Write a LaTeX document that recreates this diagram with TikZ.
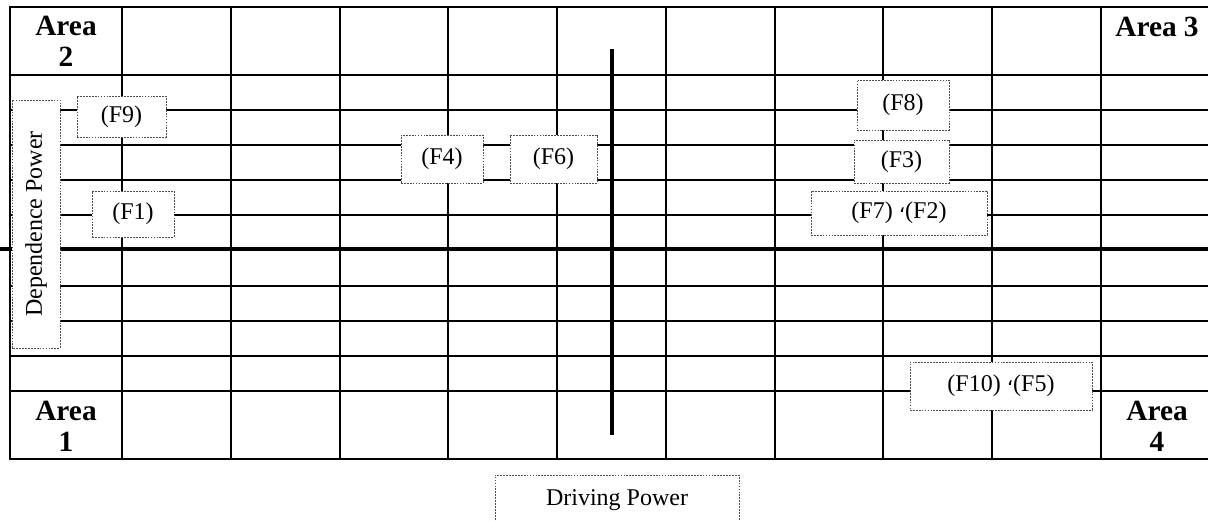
\documentclass[tikz,border=0pt]{standalone}
\usepackage{fontspec}
\setmainfont{Liberation Serif}
\newfontfamily\arabicfont[Script=Arabic]{DejaVu Sans}
\TeXXeTstate=1
\newcommand{\arcomma}{\raisebox{0.28em}{\arabicfont\fontsize{15}{16}\selectfont\beginR ،\endR}}

\begin{document}
\begin{tikzpicture}[x=0.75pt, y=-0.75pt,
  gridline/.style={line width=1.5pt},
  axisline/.style={line width=3.4pt},
  tag/.style 2 args={draw=black!70, dash pattern=on 1.3pt off 0.9pt,
    line width=0.6pt, fill=white, inner sep=0pt,
    minimum width=#1*0.75pt, minimum height=#2*0.75pt,
    font=\fontsize{18}{20}\selectfont},
  area/.style={font=\fontsize{22}{23.5}\selectfont\bfseries, align=center}
]
\useasboundingbox (0,0) rectangle (1208,521);

% grid of the matrix
\foreach \y in {75,110,145,180,215,286,321,356,391}
  \draw[gridline] (10,\y) -- (1212,\y);
\foreach \x in {122,231,340,448,557,666,775,883,992,1101}
  \draw[gridline] (\x,7) -- (\x,459);
\draw[gridline] (10,7) rectangle (1210,459);

% the two axes splitting the four areas
\draw[axisline] (0,249) -- (1212,249);
\draw[line width=2.8pt] (612,49) -- (612,435);

% area labels
\node[area] (a2) at (66,41) {Area\\2};
\node[area] (a3) at (1157,27) {Area 3};
\node[area] (a1) at (66,426) {Area\\1};
\node[area] (a4) at (1157,426) {Area\\4};

% axis titles
\node[tag={248}{48}, rotate=90] (dep) at (36,224) {Dependence Power};
\node[tag={244}{50}] (drv) at (617,500) {Driving Power};

% factors
\node[tag={89}{41}] (f9) at (121.5,116.5) {(F9)};
\node[tag={82}{46}] (f1) at (133,214) {(F1)};
\node[tag={82}{48}] (f4) at (442,159) {(F4)};
\node[tag={87}{48}] (f6) at (553.5,159) {(F6)};
\node[tag={92}{50}] (f8) at (903,105) {(F8)};
\node[tag={95}{43}] (f3) at (901.5,161.5) {(F3)};
\node[tag={176}{44}] (f72) at (899,213) {(F7) \arcomma(F2)};
\node[tag={182}{48}] (f105) at (1001,386) {(F10) \arcomma(F5)};
\end{tikzpicture}
\end{document}
